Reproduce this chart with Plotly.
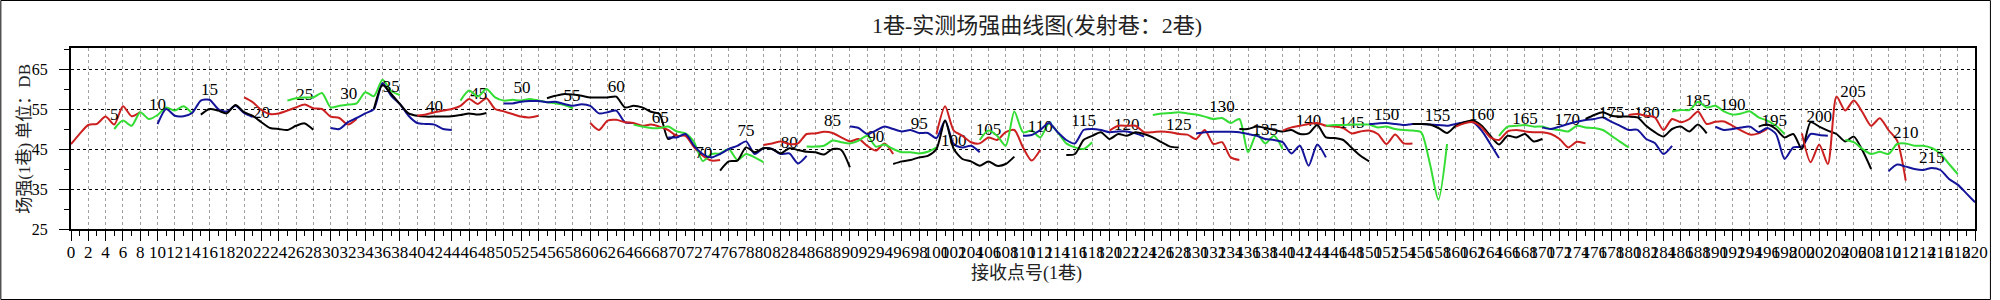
import plotly.graph_objects as go

# ---------------- data (receiver point -> field strength, dB) ----------------
start_t005 = 0
db_t005 = [46.2, 48.8, 51.0, 51.3, 53.1, 51.1, 55.7, 53.2, 54.2]
start_t010 = 5
db_t010 = [50.0, 52.1, 50.8, 54.2, 52.5, 53.5, 55.4, 54.6, 55.7, 53.9]
start_t015 = 10
db_t015 = [51.2, 55.0, 53.3, 53.2, 54.0, 57.1, 57.3, 55.0, 54.3, 55.8, 54.0, 53.0]
start_t020 = 15
db_t020 = [53.6, 55.0, 54.6, 53.9, 56.0, 54.2, 53.3, 51.7, 50.25, 50.0, 49.75, 50.8, 51.4, 49.8]
start_t025 = 20
db_t025 = [57.9, 56.7, 54.75, 53.75, 53.9, 54.6, 55.4, 56.1, 55.2, 55.0, 53.1, 52.75, 51.1, 52.5]
start_t030 = 25
db_t030 = [57.1, 57.7, 57.9, 57.9, 59.0, 55.4, 55.8, 56.1, 56.4, 59.2, 58.2, 62.3, 59.5, 58.5]
start_t035 = 30
db_t035 = [50.25, 50.0, 51.7, 52.75, 53.9, 55.0, 61.5, 58.3, 56.25, 53.3, 51.5, 51.25, 51.1, 50.0, 49.75]
start_t040 = 35
db_t040 = [55.0, 61.0, 58.75, 56.25, 53.9, 53.3, 53.1, 53.1, 53.1, 53.2, 53.5, 53.9, 53.6, 54.0]
start_t045 = 40
db_t045 = [53.3, 53.6, 54.2, 54.6, 55.0, 55.8, 57.5, 56.25, 57.7, 55.0, 54.4, 53.75, 53.1, 52.9, 53.3]
start_t050 = 45
db_t050 = [57.1, 59.6, 58.1, 60.0, 57.9, 57.1, 57.3, 57.1, 57.5, 57.1, 56.7, 56.4, 56.0, 55.2]
start_t055 = 50
db_t055 = [56.4, 56.4, 56.8, 57.0, 57.0, 56.7, 56.8, 56.25, 55.8, 56.2, 55.8, 53.9, 54.2, 54.6, 51.7, 51.5]
start_t060 = 55
db_t060 = [57.7, 58.3, 58.75, 58.6, 58.3, 57.9, 57.9, 57.9, 58.1, 55.4, 55.8, 55.4, 54.3, 53.75, 47.5, 48.75]
start_t065 = 60
db_t065 = [51.5, 49.75, 52.1, 52.3, 51.7, 51.5, 50.8, 51.1, 50.6, 49.75, 48.3, 48.3, 45.4, 43.3, 42.1, 42.25]
start_t070 = 65
db_t070 = [51.1, 50.6, 50.25, 50.25, 50.6, 49.4, 48.9, 46.7, 42.0, 43.75, 43.9, 45.0, 42.25, 43.75, 42.9, 41.7]
start_t075 = 69
db_t075 = [47.9, 47.9, 48.75, 45.8, 43.75, 42.9, 43.75, 45.0, 45.8, 46.9, 43.75, 45.2, 45.0, 43.75, 43.9, 41.4, 43.3]
start_t080 = 75
db_t080 = [39.6, 41.9, 42.1, 45.4, 44.2, 45.2, 45.0, 43.9, 45.2, 44.75, 44.3, 44.2, 43.6, 45.0, 44.75, 40.4]
start_t085 = 80
db_t085 = [46.0, 46.4, 46.9, 46.25, 46.4, 48.75, 48.9, 49.3, 49.0, 47.9, 46.9, 47.5, 45.8, 44.6, 46.4, 43.75]
start_t090 = 85
db_t090 = [45.6, 45.6, 45.8, 47.1, 46.7, 46.4, 47.1, 48.3, 45.6, 46.1, 45.0, 44.2, 44.2, 43.9, 44.3, 45.4]
start_t095 = 90
db_t095 = [50.6, 50.25, 48.75, 49.6, 50.6, 50.0, 49.4, 49.75, 49.0, 49.0, 47.75, 52.1, 46.25, 45.4, 45.8, 44.2]
start_t100 = 95
db_t100 = [41.25, 41.9, 42.25, 42.9, 43.3, 45.0, 52.1, 45.0, 42.5, 41.9, 40.8, 41.9, 40.8, 41.25, 43.1]
start_t105 = 100
db_t105 = [48.75, 55.7, 49.6, 48.3, 46.7, 46.4, 47.9, 47.25, 49.2, 49.75, 45.4, 42.1, 44.8]
start_t110 = 105
db_t110 = [47.25, 49.6, 48.3, 45.8, 54.4, 49.2, 49.6, 47.9, 51.4, 49.2, 46.4, 45.4, 45.0, 46.7]
start_t115 = 110
db_t115 = [48.3, 48.5, 49.75, 51.5, 49.2, 47.25, 46.4, 49.75, 50.0, 49.75, 49.2, 49.4, 49.4, 48.9, 48.1]
start_t120 = 115
db_t120 = [43.5, 43.75, 47.25, 48.3, 49.2, 47.5, 48.75, 48.3, 49.2, 48.75, 47.9, 46.7, 45.6, 45.4]
start_t125 = 120
db_t125 = [49.6, 50.8, 50.8, 50.8, 49.2, 49.2, 49.4, 49.2, 48.75, 48.6, 47.5, 49.75, 46.25, 46.7, 42.9, 42.25]
start_t130 = 125
db_t130 = [53.5, 53.9, 54.0, 54.2, 53.9, 53.6, 53.1, 52.5, 52.75, 51.5, 52.5, 44.2, 48.75, 46.4, 48.3, 45.0]
start_t135 = 130
db_t135 = [48.9, 49.2, 49.3, 49.3, 49.3, 49.2, 48.75, 48.3, 47.5, 47.25, 46.7, 43.9, 45.8, 40.8, 46.1, 42.9]
start_t140 = 135
db_t140 = [50.0, 50.0, 50.6, 50.25, 49.75, 49.4, 49.75, 48.75, 48.9, 51.0, 47.9, 47.75, 47.25, 45.25, 43.3, 41.9]
start_t145 = 140
db_t145 = [49.6, 50.4, 50.8, 51.25, 51.5, 50.8, 50.6, 50.25, 48.9, 49.4, 49.6, 48.75, 46.25, 48.6, 46.4, 46.4]
start_t150 = 145
db_t150 = [50.8, 51.0, 51.0, 51.1, 51.1, 51.1, 50.4, 50.6, 50.0, 49.75, 49.6, 49.2, 41.5, 32.3, 46.25]
start_t155 = 150
db_t155 = [51.25, 51.4, 51.5, 51.25, 51.0, 51.25, 51.25, 51.1, 51.0, 50.8, 51.25, 51.7, 51.7, 49.6, 46.25, 42.75]
start_t160 = 155
db_t160 = [51.25, 51.25, 51.1, 50.25, 49.0, 50.8, 51.7, 52.1, 50.8, 48.3, 46.1, 48.3, 47.9, 48.75, 46.9, 47.5]
start_t165 = 160
db_t165 = [50.6, 51.4, 51.7, 50.4, 47.9, 47.25, 49.4, 49.75, 49.4, 49.2, 49.2, 48.75, 47.5, 45.4, 46.8, 46.4]
start_t170 = 165
db_t170 = [48.3, 50.6, 50.8, 51.0, 50.6, 50.6, 50.0, 49.75, 49.4, 50.8, 50.4, 50.25, 49.75, 48.3, 46.8, 45.4]
start_t175 = 170
db_t175 = [50.4, 50.0, 50.6, 51.25, 51.8, 52.25, 52.5, 52.9, 51.8, 50.8, 49.75, 49.8, 47.5, 46.5, 43.75, 45.8]
start_t180 = 175
db_t180 = [52.5, 53.5, 54.2, 53.3, 53.1, 53.1, 52.9, 50.8, 49.2, 48.1, 50.0, 50.6, 49.4, 51.1, 48.9]
start_t185 = 180
db_t185 = [53.5, 53.75, 53.3, 52.9, 49.75, 52.5, 51.7, 52.5, 54.4, 51.25, 51.8, 51.9, 50.8, 49.6, 48.6, 48.9, 50.0]
start_t190 = 185
db_t190 = [54.4, 54.75, 54.75, 56.8, 55.4, 55.8, 54.4, 53.6, 53.9, 54.4, 52.9, 52.1, 50.8, 48.75]
start_t195 = 190
db_t195 = [50.6, 49.75, 50.0, 50.4, 50.6, 49.2, 50.25, 48.75, 42.5, 45.4, 45.6, 48.75, 48.5, 48.3]
start_t200 = 195
db_t200 = [50.6, 51.1, 50.0, 47.9, 48.75, 45.0, 51.7, 50.6, 49.6, 48.75, 46.9, 48.1, 44.6, 40.0]
start_t205 = 200
db_t205 = [48.9, 41.7, 46.1, 41.25, 58.1, 54.6, 57.1, 54.2, 50.8, 52.7, 49.75, 47.1, 37.1]
start_t210 = 205
db_t210 = [47.25, 46.7, 45.0, 43.75, 44.3, 43.75, 46.25, 46.4, 45.8, 45.8, 45.25, 43.9, 41.25, 38.75]
start_t215 = 210
db_t215 = [39.4, 41.1, 40.6, 40.0, 39.75, 40.25, 39.75, 37.5, 36.1, 33.9, 31.7]

# transmitter point labels
label_text = [str(t) for t in range(5, 220, 5)]
label_x = [5.0, 10.0, 16.0, 22.0, 27.0, 32.1, 37.0, 42.0, 47.1, 52.1, 57.9, 63.0, 68.1, 73.1,
           78.0, 83.0, 88.0, 93.0, 98.0, 102.0, 106.0, 112.0, 117.0, 122.0, 128.0, 133.0,
           138.0, 143.0, 148.0, 152.0, 157.9, 163.0, 168.0, 172.9, 178.0, 182.1, 188.0,
           192.0, 196.8, 202.0, 205.9, 212.0, 215.0]
label_y = [53.3, 55.8, 59.6, 53.75, 58.2, 58.6, 60.4, 55.4, 58.6, 60.0, 58.1, 60.2, 52.5, 43.75,
           49.3, 46.4, 51.7, 47.75, 51.1, 46.7, 49.6, 50.4, 51.8, 50.8, 50.8, 55.4, 49.6, 51.7,
           51.25, 53.3, 53.1, 53.3, 52.3, 52.1, 53.9, 53.75, 56.8, 55.7, 51.9, 52.9, 59.0,
           48.9, 42.5]

series_colors = ["#000000", "#cc2020", "#33dd33", "#14149a"]  # cycle: black, red, green, blue

curves = [
    (start_t005, db_t005), (start_t010, db_t010), (start_t015, db_t015), (start_t020, db_t020),
    (start_t025, db_t025), (start_t030, db_t030), (start_t035, db_t035), (start_t040, db_t040),
    (start_t045, db_t045), (start_t050, db_t050), (start_t055, db_t055), (start_t060, db_t060),
    (start_t065, db_t065), (start_t070, db_t070), (start_t075, db_t075), (start_t080, db_t080),
    (start_t085, db_t085), (start_t090, db_t090), (start_t095, db_t095), (start_t100, db_t100),
    (start_t105, db_t105), (start_t110, db_t110), (start_t115, db_t115), (start_t120, db_t120),
    (start_t125, db_t125), (start_t130, db_t130), (start_t135, db_t135), (start_t140, db_t140),
    (start_t145, db_t145), (start_t150, db_t150), (start_t155, db_t155), (start_t160, db_t160),
    (start_t165, db_t165), (start_t170, db_t170), (start_t175, db_t175), (start_t180, db_t180),
    (start_t185, db_t185), (start_t190, db_t190), (start_t195, db_t195), (start_t200, db_t200),
    (start_t205, db_t205), (start_t210, db_t210), (start_t215, db_t215),
]

# ---------------- figure ----------------
W, H = 2000, 300
ML, MR, MT, MB = 71, 16, 48, 71
PW, PH = W - ML - MR, H - MT - MB

SERIF = "Liberation Serif, Noto Sans CJK SC, serif"

fig = go.Figure()
for i, (x0, vals) in enumerate(curves):
    idx = i + 1
    fig.add_trace(go.Scatter(
        x=[x0 + k for k in range(len(vals))], y=vals, mode="lines",
        line=dict(color=series_colors[idx % 4], width=2, shape="spline", smoothing=0.7),
        hoverinfo="skip", showlegend=False))
    fig.add_trace(go.Scatter(
        x=[label_x[i]], y=[label_y[i]], mode="text", text=[label_text[i]],
        textfont=dict(family=SERIF, size=17, color="black"),
        hoverinfo="skip", showlegend=False))

fig.update_layout(
    width=W, height=H,
    margin=dict(l=ML, r=MR, t=MT, b=MB, pad=0),
    paper_bgcolor="white", plot_bgcolor="white",
    showlegend=False,
    title=dict(text="1巷-实测场强曲线图(发射巷：2巷)", x=1037 / W, xanchor="center",
               y=1 - 25 / H, yanchor="middle", yref="container",
               font=dict(family=SERIF, size=22, color="#222")),
    xaxis=dict(range=[0, 220], tickmode="linear", tick0=0, dtick=2, tickangle=0,
               ticks="outside", ticklen=10, tickwidth=1, tickcolor="black",
               minor=dict(tickmode="linear", dtick=1, ticks="outside", ticklen=5,
                          tickwidth=1, tickcolor="black", showgrid=False),
               showgrid=True, gridcolor="#a0a0a0", griddash="dot", gridwidth=1,
               showline=True, linecolor="black", linewidth=2, mirror=True,
               zeroline=False, ticklabelstandoff=-3,
               tickfont=dict(family=SERIF, size=17, color="black")),
    yaxis=dict(range=[25, 70.25], tickmode="linear", tick0=25, dtick=10,
               ticks="outside", ticklen=10, tickwidth=1, tickcolor="black",
               minor=dict(tickmode="linear", dtick=5, ticks="outside", ticklen=5,
                          tickwidth=1, tickcolor="black", showgrid=False),
               showgrid=True, gridcolor="black", griddash="dot", gridwidth=1,
               showline=True, linecolor="black", linewidth=2, mirror=True,
               zeroline=False, ticklabelstandoff=8,
               tickfont=dict(family=SERIF, size=16, color="black")),
)

fig.add_annotation(text="接收点号(1巷)", xref="paper", yref="paper",
                   x=(1031 - ML) / PW, y=-44 / PH, xanchor="center", yanchor="middle",
                   showarrow=False, font=dict(family=SERIF, size=18, color="#222"))
fig.add_annotation(text="场强(1巷) 单位：DB", xref="paper", yref="paper",
                   x=(24 - ML) / PW, y=0.5, xanchor="center", yanchor="middle",
                   textangle=-90, showarrow=False,
                   font=dict(family=SERIF, size=17, color="#222"))

# outer frame of the picture
fig.add_shape(type="rect", xref="paper", yref="paper",
              x0=(0.5 - ML) / PW, x1=(W - 0.5 - ML) / PW,
              y0=(MT + PH - (H - 0.5)) / PH, y1=(MT + PH - 0.5) / PH,
              line=dict(color="black", width=1), layer="above")

fig.write_html("out.html")
